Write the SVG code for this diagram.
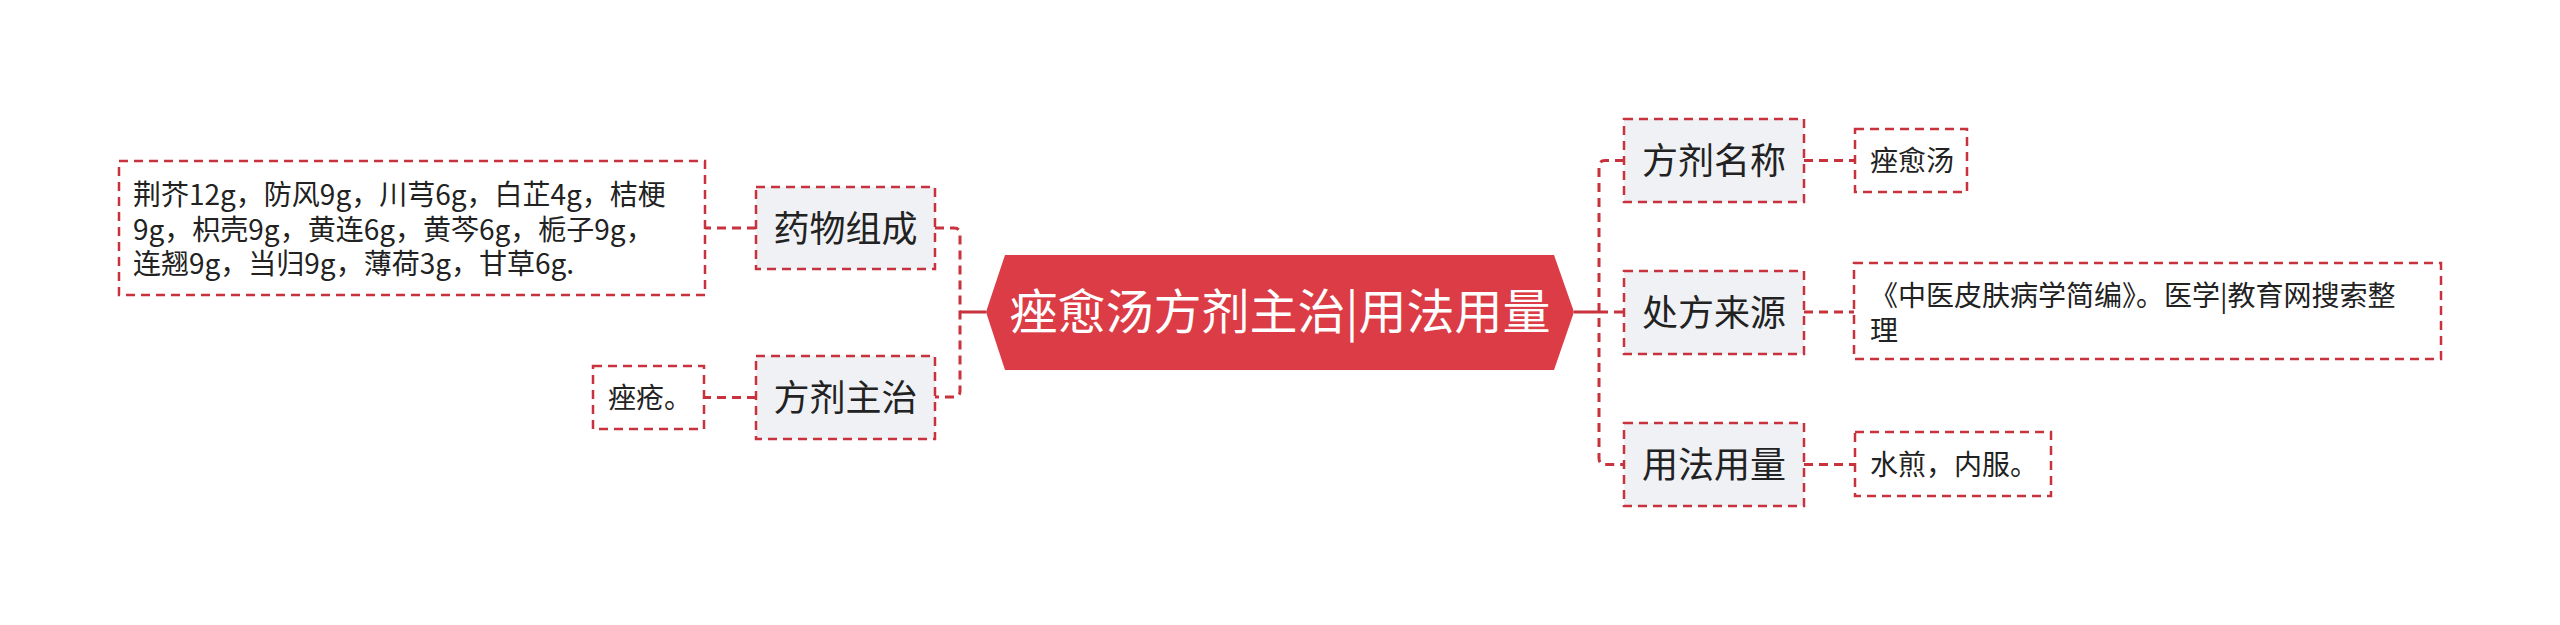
<svg xmlns="http://www.w3.org/2000/svg" width="2560" height="625" viewBox="0 0 2560 625">
<style>
text{font-family:"Noto Sans CJK SC","Noto Sans",sans-serif;fill:#222}
.main{font-size:48px;fill:#fff;text-anchor:middle}
.l1{font-size:36px;text-anchor:middle}
.lf{font-size:28px}
.b1{fill:#eff1f4;stroke:#c8323c;stroke-width:2.5;stroke-dasharray:9 6}
.bl{fill:#fff;stroke:#c8323c;stroke-width:2.5;stroke-dasharray:9 6}
.c{fill:none;stroke:#c8323c;stroke-width:3;stroke-dasharray:9 6}
.cs{fill:none;stroke:#c8323c;stroke-width:3}
</style>
<rect width="2560" height="625" fill="#fff"/>
<g id="connectors">
<path class="cs" d="M986 312H960M1574 312H1599"/>
<path class="c" d="M935 228H954Q960 228 960 234V391Q960 397 954 397H935"/>
<path class="c" d="M1624 160.5H1605Q1599 160.5 1599 167V458Q1599 464.5 1605 464.5H1624M1599 312H1624"/>
<path class="c" d="M756 228H705M756 397.5H704M1804 160.5H1855M1804 312H1854M1804 464.5H1855"/>
</g>
<g id="main">
<polygon points="986,312 1005,255 1554,255 1574,312 1554,370 1005,370" fill="#dc3c45"/>
<text class="main" x="1280" y="329">痤愈汤方剂主治|用法用量</text>
</g>
<g id="n-yaowu">
<rect class="b1" x="756" y="187" width="179" height="82"/>
<text class="l1" x="845.5" y="241.5">药物组成</text>
</g>
<g id="n-yaowu-leaf">
<rect class="bl" x="119" y="161" width="586" height="134"/>
<text class="lf" x="133" y="205">荆芥12g，防风9g，川芎6g，白芷4g，桔梗<tspan x="133" dy="34.5">9g，枳壳9g，黄连6g，黄芩6g，栀子9g，</tspan><tspan x="133" dy="34.5">连翘9g，当归9g，薄荷3g，甘草6g.</tspan></text>
</g>
<g id="n-zhuzhi">
<rect class="b1" x="756" y="356" width="179" height="83"/>
<text class="l1" x="845.5" y="411">方剂主治</text>
</g>
<g id="n-zhuzhi-leaf">
<rect class="bl" x="593" y="366" width="111" height="63"/>
<text class="lf" x="608" y="408">痤疮。</text>
</g>
<g id="n-mingcheng">
<rect class="b1" x="1624" y="119" width="180" height="83"/>
<text class="l1" x="1714" y="174">方剂名称</text>
</g>
<g id="n-mingcheng-leaf">
<rect class="bl" x="1855" y="129" width="112" height="63"/>
<text class="lf" x="1870" y="171">痤愈汤</text>
</g>
<g id="n-laiyuan">
<rect class="b1" x="1624" y="271" width="180" height="83"/>
<text class="l1" x="1714" y="326">处方来源</text>
</g>
<g id="n-laiyuan-leaf">
<rect class="bl" x="1854" y="263" width="587" height="96"/>
<text class="lf" x="1870" y="306">《中医皮肤病学简编》。医学|教育网搜索整<tspan x="1870" dy="35">理</tspan></text>
</g>
<g id="n-yongfa">
<rect class="b1" x="1624" y="423" width="180" height="83"/>
<text class="l1" x="1714" y="478">用法用量</text>
</g>
<g id="n-yongfa-leaf">
<rect class="bl" x="1855" y="432" width="196" height="64"/>
<text class="lf" x="1870" y="475">水煎，内服。</text>
</g>
</svg>
